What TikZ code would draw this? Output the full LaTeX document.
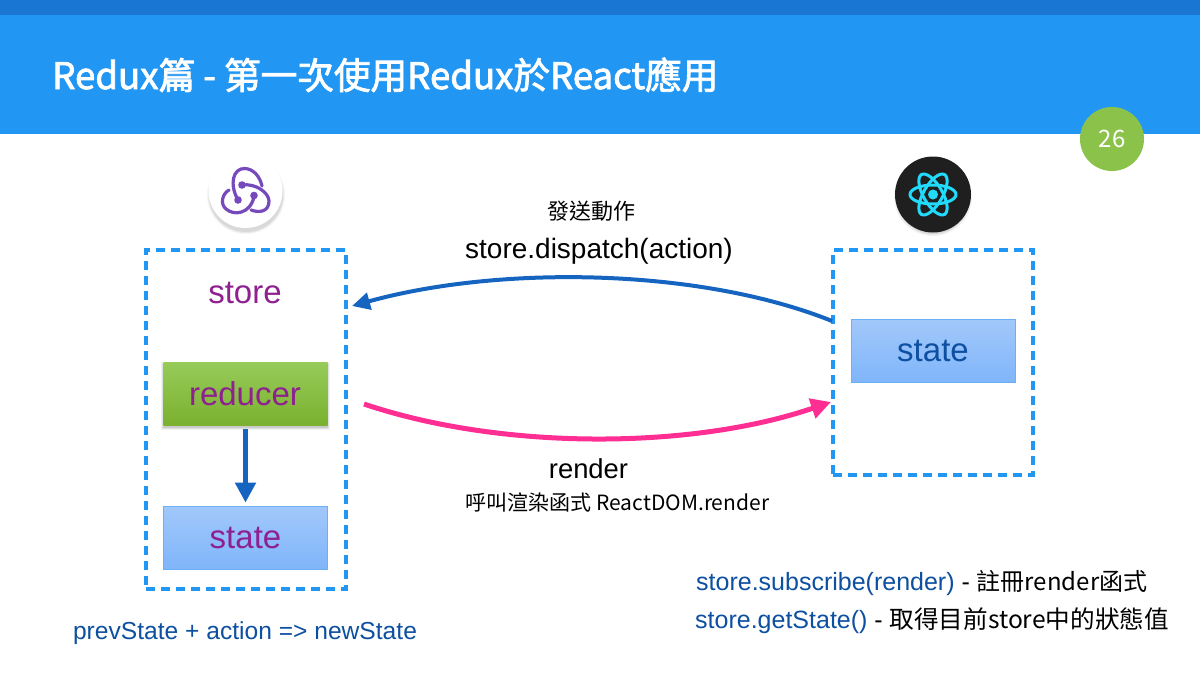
\documentclass[tikz,border=0pt]{standalone}
\usepackage{fontspec}
\setmainfont{Liberation Sans}
\newfontfamily\cjk{Noto Sans CJK TC}
\newfontfamily\cjkt[FakeBold=2.2]{Noto Sans CJK TC}
\usetikzlibrary{arrows.meta}
\definecolor{band}{HTML}{2196F3}
\definecolor{bandd}{HTML}{1976D2}
\definecolor{purp}{HTML}{8E208F}
\definecolor{bluet}{HTML}{0D4FA0}
\definecolor{arrowb}{HTML}{1565C0}
\definecolor{pinkc}{HTML}{FF2E93}
\definecolor{greenc}{HTML}{8BC34A}
\definecolor{rx}{HTML}{764ABC}
\definecolor{rc}{HTML}{22DAFB}
\definecolor{HTMLgreenT}{HTML}{96CB5A}
\definecolor{HTMLgreenB}{HTML}{7BB12E}
\definecolor{HTMLblueE}{HTML}{6BB0F5}
\definecolor{HTMLblueT}{HTML}{A2C8FA}
\definecolor{HTMLblueB}{HTML}{7FB5FA}
\tikzset{
 x=1pt,y=-1pt,
 dbox/.style={draw=band,line width=4pt,dash pattern=on 9pt off 6pt},
 greenbox/.style={draw=none,top color=HTMLgreenT,bottom color=HTMLgreenB,minimum width=164pt,minimum height=63pt,inner sep=0pt,text=purp,font=\fontsize{33}{33}\selectfont},
 bluebox/.style={draw=HTMLblueE,line width=.8pt,top color=HTMLblueT,bottom color=HTMLblueB,minimum width=164pt,minimum height=63pt,inner sep=0pt,font=\fontsize{33}{33}\selectfont},
 conn/.style={line width=4pt,-{Triangle[length=18pt,width=17pt]}},
 connbig/.style={line width=5pt,-{Triangle[length=20pt,width=20pt]}},
 lab/.style={inner sep=0pt,anchor=base},
}
\begin{document}
\begin{tikzpicture}
\useasboundingbox (0,0) rectangle (1200,675);
\fill[band] (0,0) rectangle (1200,134);
\fill[bandd] (0,0) rectangle (1200,15);
\node[lab,anchor=base west,text=white,font=\cjkt\fontsize{36.6}{36}\selectfont] (title) at (52,89) {Redux篇 - 第一次使用Redux於React應用};
\node[circle,fill=greenc,minimum size=64pt,inner sep=0pt,text=white,font=\cjk\fontsize{24}{24}\selectfont] (page) at (1112,139) {26};
% boxes
\node[dbox,minimum width=200pt,minimum height=339pt,inner sep=0pt] (storebox) at (246,419.5) {};
\node[dbox,minimum width=200pt,minimum height=225pt,inner sep=0pt] (reactbox) at (933,362.5) {};
\node[lab,text=purp,font=\fontsize{33}{33}\selectfont] (store) at (245,303) {store};
\foreach \o/\d in {.05/2.5,.07/1.5,.1/.5}{\fill[black,opacity=\o] (163.5-\d,362.5-\d+2) rectangle (327.5+\d,425.5+\d+2);}
\node[greenbox] (reducer) at (245.5,394) {};
\node[lab,text=purp,font=\fontsize{33}{33}\selectfont] at (245,405) {reducer};
\node[bluebox,text=purp] (state1) at (245.5,537.5) {\raisebox{-1pt}{state}};
\node[bluebox,text=bluet] (state2) at (933,351) {\raisebox{-1pt}{state}};
\draw[connbig,arrowb] (reducer.south) ++(0,3) coordinate (rs) -- ([yshift=3pt]state1.north);
% logos
\foreach \r/\o in {39/.04,38/.05,37/.07}{\fill[black,opacity=\o] (246,195) circle (\r);\fill[black,opacity=\o] (933,197) circle (\r);}
\node[circle,fill=white,minimum size=74pt,inner sep=0pt] (rxlogo) at (245.5,191) {};
\node[circle,fill=black!88,minimum size=76pt,inner sep=0pt] (rclogo) at (933,194.5) {};
\begin{scope}[rx,line width=3.2pt,line cap=round]
\draw (229,190) .. controls (222,194) and (220,204) .. (226,209) .. controls (234,216) and (250,214) .. (254,197);
\draw (238,200) .. controls (229,184) and (233,168) .. (245,168.5) .. controls (254,169) and (260,177) .. (262,186);
\draw (242,185) .. controls (256,183) and (269,193) .. (269,201) .. controls (269,212) and (259,213) .. (251,210);
\fill (238,200) circle (3.8) (242,185) circle (3.8) (254,195.5) circle (3.8);
\end{scope}
\begin{scope}[rc,line width=3pt]
\draw (933,194.5) ellipse [x radius=23,y radius=9.5];
\draw[rotate around={60:(933,194.5)}] (933,194.5) ellipse [x radius=23,y radius=9.5];
\draw[rotate around={-60:(933,194.5)}] (933,194.5) ellipse [x radius=23,y radius=9.5];
\fill (933,194.5) circle (5);
\end{scope}
% arrows
\coordinate (a1) at (832,321);
\coordinate (a2) at (352,306);
\coordinate (b1) at (364,404);
\coordinate (b2) at (831,402);
\draw[conn,arrowb] (a1) .. controls (700,268) and (500,265) .. (a2);
\draw[connbig,pinkc] (b1) .. controls (500,450) and (690,450) .. (b2);
% labels
\node[lab,font=\cjk\fontsize{22}{22}\selectfont] (l1) at (591,219) {發送動作};
\node[lab,font=\fontsize{28}{28}\selectfont] (l2) at (599,258) {store.dispatch(action)};
\node[lab,font=\fontsize{27.4}{27}\selectfont] (l3) at (588.5,478) {render};
\node[lab,font=\cjk\fontsize{21}{21}\selectfont] (l4) at (617.5,510) {呼叫渲染函式 ReactDOM.render};
\node[lab,text=bluet,font=\fontsize{24.6}{25}\selectfont] (l5) at (245,639) {prevState + action => newState};
\node[lab,anchor=base west,font=\fontsize{25}{25}\selectfont] (l6) at (696,590) {\textcolor{bluet}{store.subscribe(render)} - {\cjk\fontsize{24}{25}\selectfont 註冊render函式}};
\node[lab,anchor=base west,font=\fontsize{25}{25}\selectfont] (l7) at (695,628) {\textcolor{bluet}{store.getState()} - {\cjk\fontsize{24.6}{25}\selectfont 取得目前store中的狀態值}};
\end{tikzpicture}
\end{document}
